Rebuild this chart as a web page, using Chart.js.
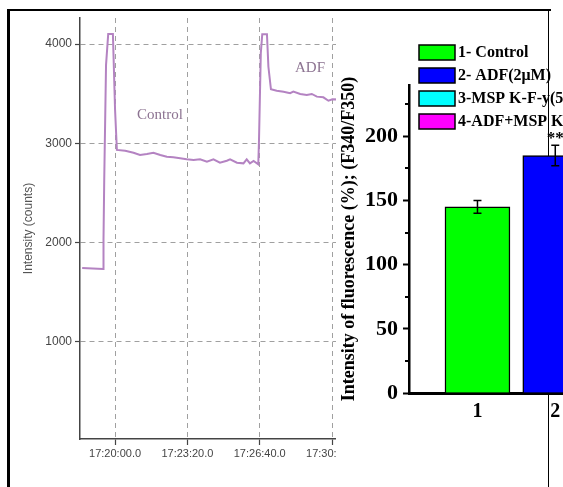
<!DOCTYPE html>
<html>
<head>
<meta charset="utf-8">
<script src="https://cdn.jsdelivr.net/npm/chart.js@4.4.1/dist/chart.umd.min.js"></script>
<style>
  html, body { margin: 0; padding: 0; background: #fff; }
  body { width: 563px; height: 487px; overflow: hidden; position: relative; }
  #trace { position: absolute; left: 0; top: 0; }
  #bars { position: absolute; left: 336px; top: 0; background: #fff; }
  #frame {
    position: absolute; left: 7px; top: 9px; width: 541px; height: 490px;
    border-left: 3px solid #000; border-top: 2px solid #000;
    pointer-events: none;
  }
</style>
</head>
<body>
<canvas id="trace" width="460" height="487"></canvas>
<canvas id="bars" width="425" height="487"></canvas>
<div id="frame"></div>
<script>
/* ---------- trace data (seconds after 17:00:00) ---------- */
const traceTimes = [1109, 1167, 1168, 1170, 1175, 1181, 1194, 1200, 1205,
    1228, 1251, 1269, 1288, 1306, 1325, 1343, 1361, 1380, 1398, 1417, 1435,
    1454, 1472, 1490, 1509, 1518, 1537, 1555, 1564, 1573, 1583, 1596,
    1598, 1603, 1607, 1620, 1624, 1631,
    1647, 1666, 1684, 1693, 1712, 1730, 1744, 1758, 1776, 1790, 1801, 1830];
const traceCounts = [1745, 1734, 2026, 2630, 3789, 4100, 4100, 3335, 2933,
    2925, 2905, 2882, 2893, 2905, 2882, 2865, 2859, 2849, 2839, 2832, 2839,
    2815, 2839, 2805, 2825, 2839, 2805, 2798, 2839, 2798, 2822, 2788,
    3033, 3909, 4098, 4098, 3771, 3544,
    3530, 3520, 3504, 3520, 3497, 3487, 3497, 3470, 3463, 3429, 3443, 3440];
const timeTicks = [1200, 1400, 1600, 1800, 2000];
const countTicks = [1000, 2000, 3000, 4000];
const noteTexts = ["Control", "ADF"];
const noteTimes = [1324, 1739];
const noteCounts = [3285, 3758];

/* ---------- bar data ---------- */
const groupLabels = ["1", "2", "3", "4"];
const barGroups = [1, 2];
const barValues = [145, 185];
const barErrors = [5, 8];
const barMarks = ["", "**"];
const valueTicks = [0, 50, 100, 150, 200];
const minorTicks = [25, 75, 125, 175, 225];
const legendLabels = ["1- Control", "2- ADF(2\u03bcM)", "3-MSP K-F-y(5\u03bcM)", "4-ADF+MSP K-F-y"];
const legendColors = ["#00ff00", "#0000ff", "#00ffff", "#ff00ff"];

function clock(sec){
    const mm = Math.floor(sec / 60);
    const ss = sec % 60;
    return "17:" + String(mm).padStart(2, "0") + ":" + String(ss).padStart(2, "0") + ".0";
}

/* ---------- trace chart ---------- */
const traceNotes = {
    id: "traceNotes",
    afterDatasetsDraw(chart){
        const {ctx, scales: {x, y}} = chart;
        ctx.save();
        ctx.fillStyle = "#8c7391";
        ctx.font = "15px 'Liberation Serif'";
        ctx.textAlign = "center";
        ctx.textBaseline = "middle";
        noteTexts.forEach((t, i) => {
            ctx.fillText(t, x.getPixelForValue(noteTimes[i]), y.getPixelForValue(noteCounts[i]));
        });
        ctx.restore();
    }
};

new Chart(document.getElementById("trace"), {
    type: "line",
    data: {
        datasets: [{
            data: traceTimes.map((t, i) => ({x: t, y: traceCounts[i]})),
            borderColor: "#b483c2",
            borderWidth: 2,
            pointRadius: 0,
            tension: 0,
            fill: false
        }]
    },
    options: {
        responsive: false,
        animation: false,
        layout: {padding: {left: 10, top: 18, right: 5, bottom: 0}},
        plugins: {legend: {display: false}, tooltip: {enabled: false}},
        scales: {
            x: {
                type: "linear",
                min: 1103,
                max: 2140,
                afterBuildTicks: s => { s.ticks = timeTicks.map(v => ({value: v})); },
                afterFit: s => { s.height = 48; },
                ticks: {
                    callback: v => clock(v),
                    font: {family: "'Liberation Sans'", size: 11},
                    color: "#444",
                    padding: 2,
                    maxRotation: 0,
                    autoSkip: false
                },
                grid: {color: "#a0a0a0", lineWidth: 1, tickLength: 6, tickColor: "#444", tickWidth: 1.2, tickBorderDash: []},
                border: {color: "#444", width: 1.5, dash: [5, 4]}
            },
            y: {
                min: 22,
                max: 4262,
                afterBuildTicks: s => { s.ticks = countTicks.map(v => ({value: v})); },
                afterFit: s => { s.width = 70; },
                title: {
                    display: true,
                    text: "Intensity (counts)",
                    font: {family: "'Liberation Sans'", size: 12},
                    color: "#555",
                    padding: {top: 11, bottom: 0}
                },
                ticks: {
                    callback: v => String(v),
                    font: {family: "'Liberation Sans'", size: 12},
                    color: "#444",
                    padding: 3
                },
                grid: {color: "#a0a0a0", lineWidth: 1, tickLength: 5, tickColor: "#444", tickWidth: 1.2, tickBorderDash: []},
                border: {color: "#444", width: 1.5, dash: [5, 4]}
            }
        }
    },
    plugins: [traceNotes]
});

/* ---------- bar chart ---------- */
const barExtras = {
    id: "barExtras",
    beforeDatasetsDraw(chart){
        const {ctx, scales: {y}} = chart;
        ctx.save();
        // frame edge running behind the bars
        ctx.strokeStyle = "#000";
        ctx.lineWidth = 1;
        ctx.beginPath();
        ctx.moveTo(212.5, 10);
        ctx.lineTo(212.5, 487);
        ctx.stroke();
        // minor ticks
        ctx.lineWidth = 2;
        minorTicks.forEach(v => {
            const py = Math.round(y.getPixelForValue(v));
            ctx.beginPath();
            ctx.moveTo(y.right - 4, py);
            ctx.lineTo(y.right, py);
            ctx.stroke();
        });
        ctx.restore();
    },
    afterDatasetsDraw(chart){
        const {ctx, scales: {y}} = chart;
        const meta = chart.getDatasetMeta(0);
        ctx.save();
        ctx.strokeStyle = "#000";
        ctx.fillStyle = "#000";
        ctx.lineWidth = 1.5;
        meta.data.forEach((bar, i) => {
            const hi = y.getPixelForValue(barValues[i] + barErrors[i]);
            const lo = y.getPixelForValue(barValues[i] - barErrors[i]);
            ctx.beginPath();
            ctx.moveTo(bar.x, hi); ctx.lineTo(bar.x, lo);
            ctx.moveTo(bar.x - 4, hi); ctx.lineTo(bar.x + 4, hi);
            ctx.moveTo(bar.x - 4, lo); ctx.lineTo(bar.x + 4, lo);
            ctx.stroke();
            if (barMarks[i]) {
                ctx.font = "bold 17px 'Liberation Serif'";
                ctx.textAlign = "center";
                ctx.textBaseline = "middle";
                ctx.fillText(barMarks[i], bar.x, hi - 7);
            }
        });
        ctx.restore();
    },
    afterDraw(chart){
        const ctx = chart.ctx;
        ctx.save();
        ctx.font = "bold 16px 'Liberation Serif'";
        ctx.textBaseline = "middle";
        ctx.textAlign = "left";
        legendLabels.forEach((label, i) => {
            const top = 45 + i * 23;
            ctx.fillStyle = legendColors[i];
            ctx.fillRect(83, top, 36, 15);
            ctx.strokeStyle = "#000";
            ctx.lineWidth = 1.5;
            ctx.strokeRect(83, top, 36, 15);
            ctx.fillStyle = "#000";
            ctx.fillText(label, 122, top + 8);
        });
        ctx.restore();
    }
};

new Chart(document.getElementById("bars"), {
    type: "bar",
    data: {
        datasets: [{
            data: barGroups.map((g, i) => ({x: g, y: barValues[i]})),
            backgroundColor: legendColors.slice(0, barValues.length),
            borderColor: "#000",
            borderWidth: 1.5,
            barThickness: 65
        }]
    },
    options: {
        responsive: false,
        animation: false,
        layout: {padding: {left: 0, top: 85, right: 5, bottom: 0}},
        plugins: {legend: {display: false}, tooltip: {enabled: false}},
        scales: {
            x: {
                type: "linear",
                offset: false,
                min: 0.12,
                max: 4.58,
                afterBuildTicks: s => { s.ticks = groupLabels.map((l, i) => ({value: i + 1})); },
                afterFit: s => { s.height = 94; },
                ticks: {
                    callback: v => groupLabels[v - 1],
                    font: {family: "'Liberation Serif'", size: 20, weight: "bold"},
                    color: "#000",
                    padding: 7,
                    maxRotation: 0,
                    autoSkip: false
                },
                grid: {display: false, drawTicks: false, offset: false},
                border: {display: true, color: "#000", width: 3}
            },
            y: {
                min: 0,
                max: 240,
                afterBuildTicks: s => { s.ticks = valueTicks.map(v => ({value: v})); },
                afterFit: s => { s.width = 73; },
                title: {
                    display: true,
                    text: "Intensity of fluorescence (%); (F340/F350)",
                    font: {family: "'Liberation Serif'", size: 18, weight: "bold"},
                    color: "#000",
                    padding: {top: 3, bottom: 0}
                },
                ticks: {
                    font: {family: "'Liberation Serif'", size: 22, weight: "bold"},
                    color: "#000",
                    padding: 5
                },
                grid: {drawOnChartArea: false, tickLength: 6, tickColor: "#000", tickWidth: 2},
                border: {color: "#000", width: 2.5}
            }
        }
    },
    plugins: [barExtras]
});
</script>
</body>
</html>
